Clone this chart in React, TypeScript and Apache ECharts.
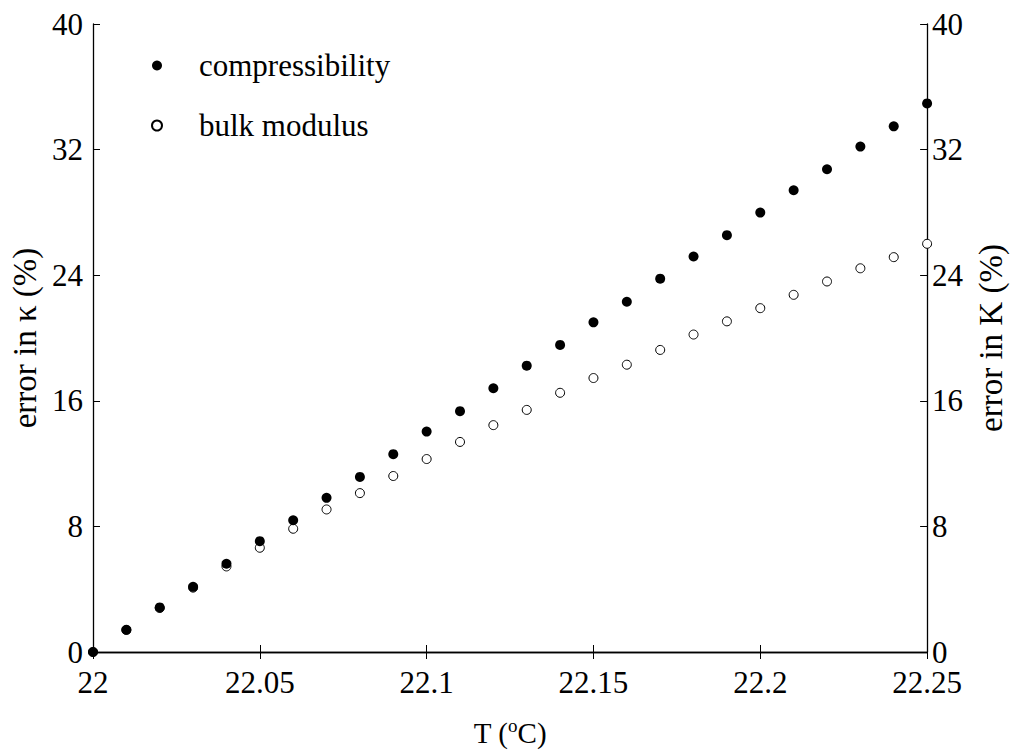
import React, { useEffect, useRef } from "react";
import * as echarts from "echarts";

const temperatures = [
  22.0, 22.01, 22.02, 22.03, 22.04, 22.05, 22.06, 22.07, 22.08, 22.09, 22.1, 22.11, 22.12,
  22.13, 22.14, 22.15, 22.16, 22.17, 22.18, 22.19, 22.2, 22.21, 22.22, 22.23, 22.24, 22.25,
];
const compressibilityError = [
  0, 1.42, 2.84, 4.15, 5.62, 7.06, 8.39, 9.82, 11.15, 12.6, 14.04, 15.34, 16.8,
  18.24, 19.56, 21.0, 22.31, 23.78, 25.19, 26.55, 27.99, 29.41, 30.75, 32.19, 33.48, 34.94,
];
const bulkModulusError = [
  0, 1.4, 2.8, 4.1, 5.45, 6.64, 7.85, 9.08, 10.12, 11.21, 12.29, 13.38, 14.45,
  15.42, 16.51, 17.45, 18.3, 19.24, 20.22, 21.06, 21.9, 22.75, 23.6, 24.44, 25.15, 26.0,
];
const seriesNames = ["compressibility", "bulk modulus"];
const yTicks = { min: 0, max: 40, interval: 8 };
const xTicks = { min: 22, max: 22.25, interval: 0.05 };

const FONT = "Liberation Serif";

export default function App() {
  const ref = useRef<HTMLDivElement>(null);
  useEffect(() => {
    if (!ref.current) return;
    const chart = echarts.init(ref.current, undefined, { renderer: "svg" });
    const axisLine = { show: true, lineStyle: { color: "#000", width: 1.3 } };
    const axisTick = { show: true, inside: true, length: 7, lineStyle: { color: "#000", width: 1 } };
    const labelStyle = { color: "#000", fontFamily: FONT, fontSize: 31 };
    const yNameStyle = { color: "#000", fontFamily: FONT, fontSize: 33 };
    const fmtX = (v: number) => String(parseFloat(v.toFixed(2)));
    chart.setOption({
      animation: false,
      backgroundColor: "#fff",
      grid: { left: 93, right: 83, top: 24, bottom: 89, containLabel: false },
      legend: {
        orient: "vertical",
        left: 146,
        top: 45,
        itemWidth: 10,
        itemHeight: 10,
        itemGap: 29,
        data: seriesNames,
        textStyle: { color: "#000", fontFamily: FONT, fontSize: 31, lineHeight: 31, padding: [0, 0, 0, 32] },
      },
      xAxis: [
        {
          type: "value",
          position: "bottom",
          min: xTicks.min,
          max: xTicks.max,
          interval: xTicks.interval,
          axisLine,
          axisTick,
          splitLine: { show: false },
          axisLabel: { ...labelStyle, lineHeight: 22, margin: 19, formatter: fmtX },
          name: "T ({sup|o}C)",
          nameLocation: "middle",
          nameGap: 64,
          nameTextStyle: {
            color: "#000",
            fontFamily: FONT,
            fontSize: 29,
            rich: { sup: { fontFamily: FONT, fontSize: 19, color: "#000", verticalAlign: "top", padding: [0, 0, 14, 0] } },
          },
        },
        {
          type: "value",
          position: "top",
          min: xTicks.min,
          max: xTicks.max,
          interval: xTicks.interval,
          axisLine,
          axisTick,
          splitLine: { show: false },
          axisLabel: { show: false },
        },
      ],
      yAxis: [
        {
          type: "value",
          position: "left",
          min: yTicks.min,
          max: yTicks.max,
          interval: yTicks.interval,
          axisLine,
          axisTick,
          splitLine: { show: false },
          axisLabel: { ...labelStyle, lineHeight: 20, margin: 10 },
          name: "error in κ (%)",
          nameLocation: "middle",
          nameRotate: 90,
          nameGap: 45,
          nameTextStyle: yNameStyle,
        },
        {
          type: "value",
          position: "right",
          min: yTicks.min,
          max: yTicks.max,
          interval: yTicks.interval,
          axisLine,
          axisTick,
          splitLine: { show: false },
          axisLabel: { ...labelStyle, lineHeight: 20, margin: 5 },
          name: "error in K (%)",
          nameLocation: "middle",
          nameRotate: 90,
          nameGap: 46,
          nameTextStyle: yNameStyle,
        },
      ],
      series: [
        {
          name: seriesNames[0],
          type: "scatter",
          xAxisIndex: 0,
          yAxisIndex: 0,
          symbol: "circle",
          symbolSize: 10,
          z: 3,
          itemStyle: { color: "#000", opacity: 1 },
          data: temperatures.map((t, i) => [t, compressibilityError[i]]),
        },
        {
          name: seriesNames[1],
          type: "scatter",
          xAxisIndex: 0,
          yAxisIndex: 0,
          symbol: "circle",
          symbolSize: 9,
          z: 2,
          itemStyle: { color: "#fff", borderColor: "#000", borderWidth: 1, opacity: 1 },
          data: temperatures.map((t, i) => [t, bulkModulusError[i]]),
        },
      ],
    });
    return () => chart.dispose();
  }, []);
  return <div ref={ref} style={{ width: 1015, height: 752, position: "absolute", left: 0, top: 0 }} />;
}
